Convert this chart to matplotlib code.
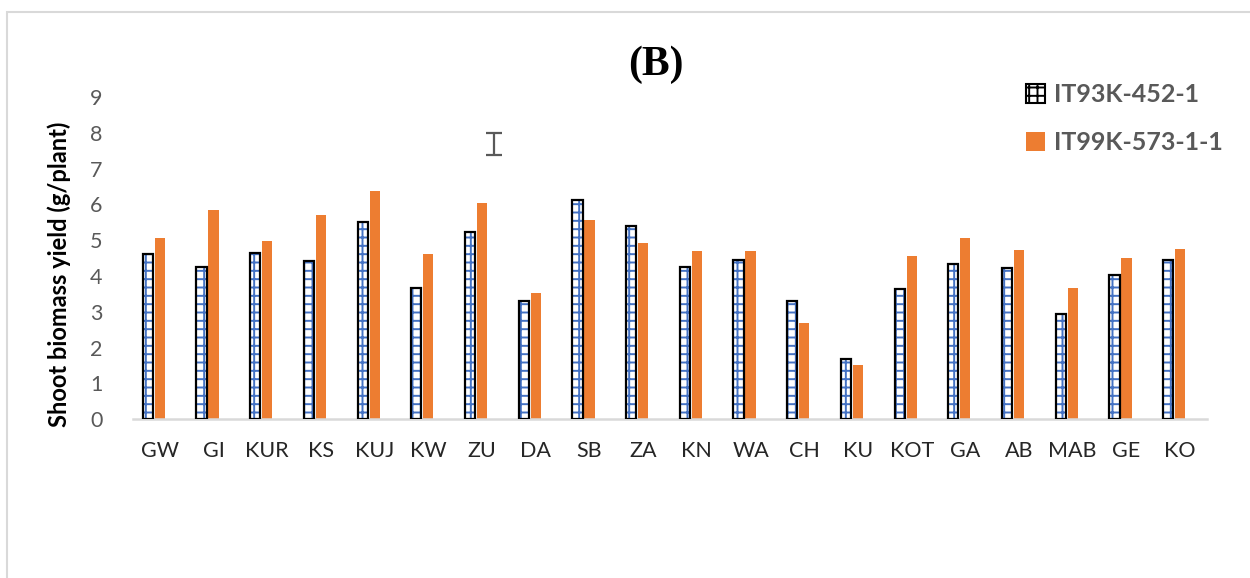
import matplotlib
matplotlib.use("Agg")
import matplotlib.pyplot as plt
import numpy as np
from matplotlib.patches import Rectangle

categories = ["GW", "GI", "KUR", "KS", "KUJ", "KW", "ZU", "DA", "SB", "ZA",
              "KN", "WA", "CH", "KU", "KOT", "GA", "AB", "MAB", "GE", "KO"]
it93k = [4.61, 4.25, 4.64, 4.41, 5.50, 3.66, 5.22, 3.30, 6.12, 5.39,
         4.25, 4.44, 3.30, 1.68, 3.63, 4.33, 4.22, 2.93, 4.02, 4.44]
it99k = [5.06, 5.84, 4.97, 5.70, 6.37, 4.61, 6.03, 3.52, 5.56, 4.92,
         4.69, 4.69, 2.68, 1.51, 4.55, 5.06, 4.72, 3.66, 4.50, 4.75]
lsd_category = "ZU"
lsd_center = 7.68
lsd_half = 0.31
series_names = ["IT93K-452-1", "IT99K-573-1-1"]
yticks = list(range(0, 10))

plt.rcParams['font.family'] = ['Lato', 'DejaVu Sans']
plt.rcParams['hatch.linewidth'] = 1.4

fig = plt.figure(figsize=(12.5, 5.78), dpi=100)
ax = fig.add_axes([0.1064, 0.275, 0.8592, 0.557])

x = np.arange(len(categories))
w = 0.19
off = 0.223
blue = "#4472C4"
orange = "#ED7D31"

ax.bar(x - off, it93k, width=w, facecolor="white", edgecolor=blue,
       hatch="++", linewidth=0, zorder=2)
ax.bar(x - off, it93k, width=w, facecolor="none", edgecolor="black",
       linewidth=1.6, zorder=3)
ax.bar(x, it99k, width=w, color=orange, linewidth=0, zorder=2)

xi = categories.index(lsd_category) + off
ax.errorbar([xi], [lsd_center], yerr=[lsd_half], fmt="none", ecolor="#595959",
            elinewidth=1.6, capsize=6, capthick=1.6, zorder=4)

ax.set_xlim(-0.5, len(categories) - 0.5)
ax.set_ylim(0, 9)
ax.set_yticks(yticks)
ax.set_xticks(x)
ax.set_xticklabels(categories, fontsize=15.5, color="#262626")
ax.tick_params(axis="y", labelsize=15.5, labelcolor="#595959", length=0, pad=22)
ax.tick_params(axis="x", length=0, pad=16)
for s in ["top", "right", "left"]:
    ax.spines[s].set_visible(False)
ax.spines["bottom"].set_color("#d9d9d9")
ax.spines["bottom"].set_linewidth(1.8)

ax.set_ylabel("Shoot biomass yield (g/plant)", fontsize=17, fontweight="bold",
              color="black")
ax.yaxis.set_label_coords(-0.058, 0.45)

fig.text(0.525, 0.888, "(B)", fontsize=30, fontweight="bold",
         family="Liberation Serif", ha="center", va="center")

# legend
h1 = Rectangle((0, 0), 1, 1, facecolor="white", edgecolor=blue, hatch="++", linewidth=0)
h2 = Rectangle((0, 0), 1, 1, facecolor=orange, linewidth=0)
leg = fig.legend([h1, h2], series_names, loc="upper left",
                 bbox_to_anchor=(0.803, 0.895), frameon=False,
                 prop={"size": 18, "weight": "bold"}, labelcolor="#595959",
                 handlelength=0.75, handleheight=0.75, handletextpad=0.35,
                 labelspacing=1.0)
leg.legend_handles[0].set_edgecolor("black")
leg.legend_handles[0].set_linewidth(1.5)

# chart border
fig.patches.append(Rectangle((0.0056, -0.05), 1.2, 1.03, transform=fig.transFigure,
                             fill=False, edgecolor="#d9d9d9", linewidth=1.5))

fig.savefig("out.png", dpi=100)
